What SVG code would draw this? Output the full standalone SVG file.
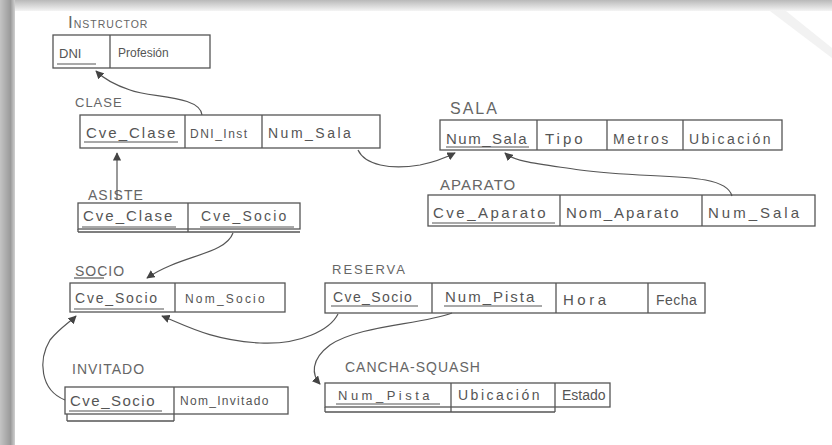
<svg xmlns="http://www.w3.org/2000/svg" width="832" height="445" viewBox="0 0 832 445">
<defs>
<linearGradient id="gt" x1="0" y1="0" x2="0" y2="1"><stop offset="0" stop-color="#b9b9b9"/><stop offset="1" stop-color="#f4f4f4"/></linearGradient>
<linearGradient id="gl" x1="0" y1="0" x2="1" y2="0"><stop offset="0" stop-color="#c4c4c4"/><stop offset="0.7" stop-color="#9a9a9a"/><stop offset="1" stop-color="#d0d0d0"/></linearGradient>
<marker id="ah" viewBox="0 0 10 10" refX="9" refY="5" markerWidth="7" markerHeight="7" orient="auto-start-reverse"><path d="M0,0 L10,5 L0,10 z" fill="#444"/></marker>
<style>
.tb{fill:none;stroke:#555;stroke-width:1.3}
.dv{stroke:#555;stroke-width:1.3}
.ul{stroke:#555;stroke-width:1.2}
.tx{font-family:"Liberation Sans",Arial,sans-serif;font-size:13px;fill:#555}
.lb{font-family:"Liberation Sans",Arial,sans-serif;font-size:13px;fill:#666;letter-spacing:1px}
.cn{fill:none;stroke:#555;stroke-width:1.2;marker-end:url(#ah)}
</style>
</defs>
<rect width="832" height="445" fill="#ffffff"/>
<rect x="0" y="0" width="832" height="11" fill="url(#gt)"/>
<rect x="0" y="0" width="15" height="445" fill="url(#gl)"/>
<path d="M770,11 L832,58 L832,48 L786,11 z" fill="#f2f2f2"/>

<g id="instructor">
<text class="lb" x="68" y="28"><tspan style="font-size:17px">I</tspan><tspan style="font-size:10.5px">NSTRUCTOR</tspan></text>
<rect class="tb" x="53" y="35" width="157" height="33"/>
<line class="dv" x1="110" y1="35" x2="110" y2="68"/>
<text class="tx" x="59" y="58" style="font-size:13px">DNI</text>
<line class="ul" x1="57" y1="64" x2="96" y2="64"/>
<text class="tx" x="118" y="57" style="font-size:12px">Profesión</text>
</g>

<g id="clase">
<text class="lb" x="75" y="107">CLASE</text>
<rect class="tb" x="80" y="115" width="300" height="33"/>
<line class="dv" x1="185" y1="115" x2="185" y2="148"/>
<line class="dv" x1="262" y1="115" x2="262" y2="148"/>
<text class="tx" x="86" y="138" style="font-size:15px;letter-spacing:2px">Cve_Clase</text>
<line class="ul" x1="84" y1="142" x2="178" y2="142"/>
<text class="tx" x="190" y="138" style="font-size:12px;letter-spacing:1.5px">DNI_Inst</text>
<text class="tx" x="268" y="138" style="font-size:14px;letter-spacing:2.5px">Num_Sala</text>
</g>

<g id="sala">
<text class="lb" x="450" y="114" style="font-size:16px;letter-spacing:2px">SALA</text>
<rect class="tb" x="440" y="120" width="342" height="30"/>
<line class="dv" x1="537" y1="120" x2="537" y2="150"/>
<line class="dv" x1="607" y1="120" x2="607" y2="150"/>
<line class="dv" x1="683" y1="120" x2="683" y2="150"/>
<text class="tx" x="446" y="144" style="font-size:15px;letter-spacing:1.5px">Num_Sala</text>
<line class="ul" x1="446" y1="147" x2="529" y2="147"/>
<text class="tx" x="545" y="144" style="font-size:15px;letter-spacing:3px">Tipo</text>
<text class="tx" x="613" y="144" style="font-size:14px;letter-spacing:2.5px">Metros</text>
<text class="tx" x="689" y="144" style="font-size:14px;letter-spacing:2.5px">Ubicación</text>
</g>

<g id="aparato">
<text class="lb" x="440" y="190" style="font-size:15px">APARATO</text>
<rect class="tb" x="428" y="195" width="387" height="31"/>
<line class="dv" x1="560" y1="195" x2="560" y2="226"/>
<line class="dv" x1="702" y1="195" x2="702" y2="226"/>
<text class="tx" x="433" y="218" style="font-size:15px;letter-spacing:2.5px">Cve_Aparato</text>
<line class="ul" x1="432" y1="223" x2="555" y2="223"/>
<text class="tx" x="566" y="218" style="font-size:15px;letter-spacing:2px">Nom_Aparato</text>
<text class="tx" x="708" y="218" style="font-size:15px;letter-spacing:3px">Num_Sala</text>
</g>

<g id="asiste">
<text class="lb" x="88" y="200" style="font-size:14px">ASISTE</text>
<rect class="tb" x="78" y="203" width="222" height="26"/>
<line class="tb" x1="78" y1="232" x2="300" y2="232"/>
<line class="dv" x1="78" y1="229" x2="78" y2="232"/>
<line class="dv" x1="188" y1="203" x2="188" y2="232"/>
<text class="tx" x="83" y="221" style="font-size:15px;letter-spacing:2px">Cve_Clase</text>
<line class="ul" x1="82" y1="227" x2="176" y2="227"/>
<text class="tx" x="201" y="221" style="font-size:14px;letter-spacing:2.2px">Cve_Socio</text>
<line class="ul" x1="200" y1="227" x2="294" y2="227"/>
</g>

<g id="socio">
<text class="lb" x="75" y="276" style="font-size:14px">SOCIO</text>
<line class="ul" x1="74" y1="278" x2="104" y2="278"/>
<rect class="tb" x="70" y="283" width="215" height="29"/>
<line class="dv" x1="175" y1="283" x2="175" y2="312"/>
<text class="tx" x="75" y="303" style="font-size:14px;letter-spacing:1.8px">Cve_Socio</text>
<line class="ul" x1="74" y1="309" x2="164" y2="309"/>
<text class="tx" x="185" y="303" style="font-size:12px;letter-spacing:2.2px">Nom_Socio</text>
</g>

<g id="reserva">
<text class="lb" x="332" y="274" style="letter-spacing:2px">RESERVA</text>
<rect class="tb" x="325" y="283" width="380" height="30"/>
<line class="dv" x1="432" y1="283" x2="432" y2="313"/>
<line class="dv" x1="556" y1="283" x2="556" y2="313"/>
<line class="dv" x1="648" y1="283" x2="648" y2="313"/>
<text class="tx" x="333" y="302" style="font-size:14px;letter-spacing:1.4px">Cve_Socio</text>
<line class="ul" x1="331" y1="306" x2="418" y2="306"/>
<text class="tx" x="445" y="302" style="font-size:15px;letter-spacing:2px">Num_Pista</text>
<line class="ul" x1="444" y1="306" x2="542" y2="306"/>
<text class="tx" x="563" y="305" style="font-size:15px;letter-spacing:3.5px">Hora</text>
<text class="tx" x="656" y="305" style="font-size:14px;letter-spacing:0.5px">Fecha</text>
</g>

<g id="cancha">
<text class="lb" x="345" y="372" style="font-size:14px">CANCHA-SQUASH</text>
<rect class="tb" x="325" y="383" width="285" height="24"/>
<line class="tb" x1="325" y1="412" x2="555" y2="412"/>
<line class="dv" x1="325" y1="407" x2="325" y2="412"/>
<line class="dv" x1="451" y1="383" x2="451" y2="412"/>
<line class="dv" x1="555" y1="383" x2="555" y2="412"/>
<text class="tx" x="338" y="400" style="font-size:13px;letter-spacing:3.5px">Num_Pista</text>
<line class="ul" x1="336" y1="404" x2="440" y2="404"/>
<text class="tx" x="458" y="400" style="font-size:14px;letter-spacing:2.5px">Ubicación</text>
<text class="tx" x="562" y="400" style="font-size:14px">Estado</text>
</g>

<g id="invitado">
<text class="lb" x="72" y="374" style="font-size:14px">INVITADO</text>
<rect class="tb" x="65" y="387" width="223" height="27"/>
<line class="tb" x1="67" y1="421" x2="174" y2="421"/>
<line class="dv" x1="67" y1="414" x2="67" y2="421"/>
<line class="dv" x1="174" y1="387" x2="174" y2="421"/>
<text class="tx" x="70" y="406" style="font-size:15px;letter-spacing:1.5px">Cve_Socio</text>
<line class="ul" x1="69" y1="411" x2="162" y2="411"/>
<text class="tx" x="180" y="405" style="font-size:12px;letter-spacing:1.3px">Nom_Invitado</text>
</g>

<g id="connectors">
<path class="cn" d="M202,115 C200,95 150,98 130,90 C112,84 103,78 96,71"/>
<path class="cn" d="M358,150 C365,165 390,170 420,165 C435,162 445,158 455,153"/>
<path class="cn" d="M732,196 C725,170 650,180 580,170 C540,164 515,162 505,153"/>
<path class="cn" d="M117,200 L117,153"/>
<path class="cn" d="M233,233 C225,255 180,255 147,278"/>
<path class="cn" d="M338,314 C330,330 300,345 260,343 C210,340 185,325 162,316"/>
<path class="cn" d="M452,313 C420,325 360,325 330,345 C310,360 312,375 320,384"/>
<path class="cn" d="M65,400 C40,390 38,360 50,340 C60,328 70,322 76,316"/>
</g>
</svg>
